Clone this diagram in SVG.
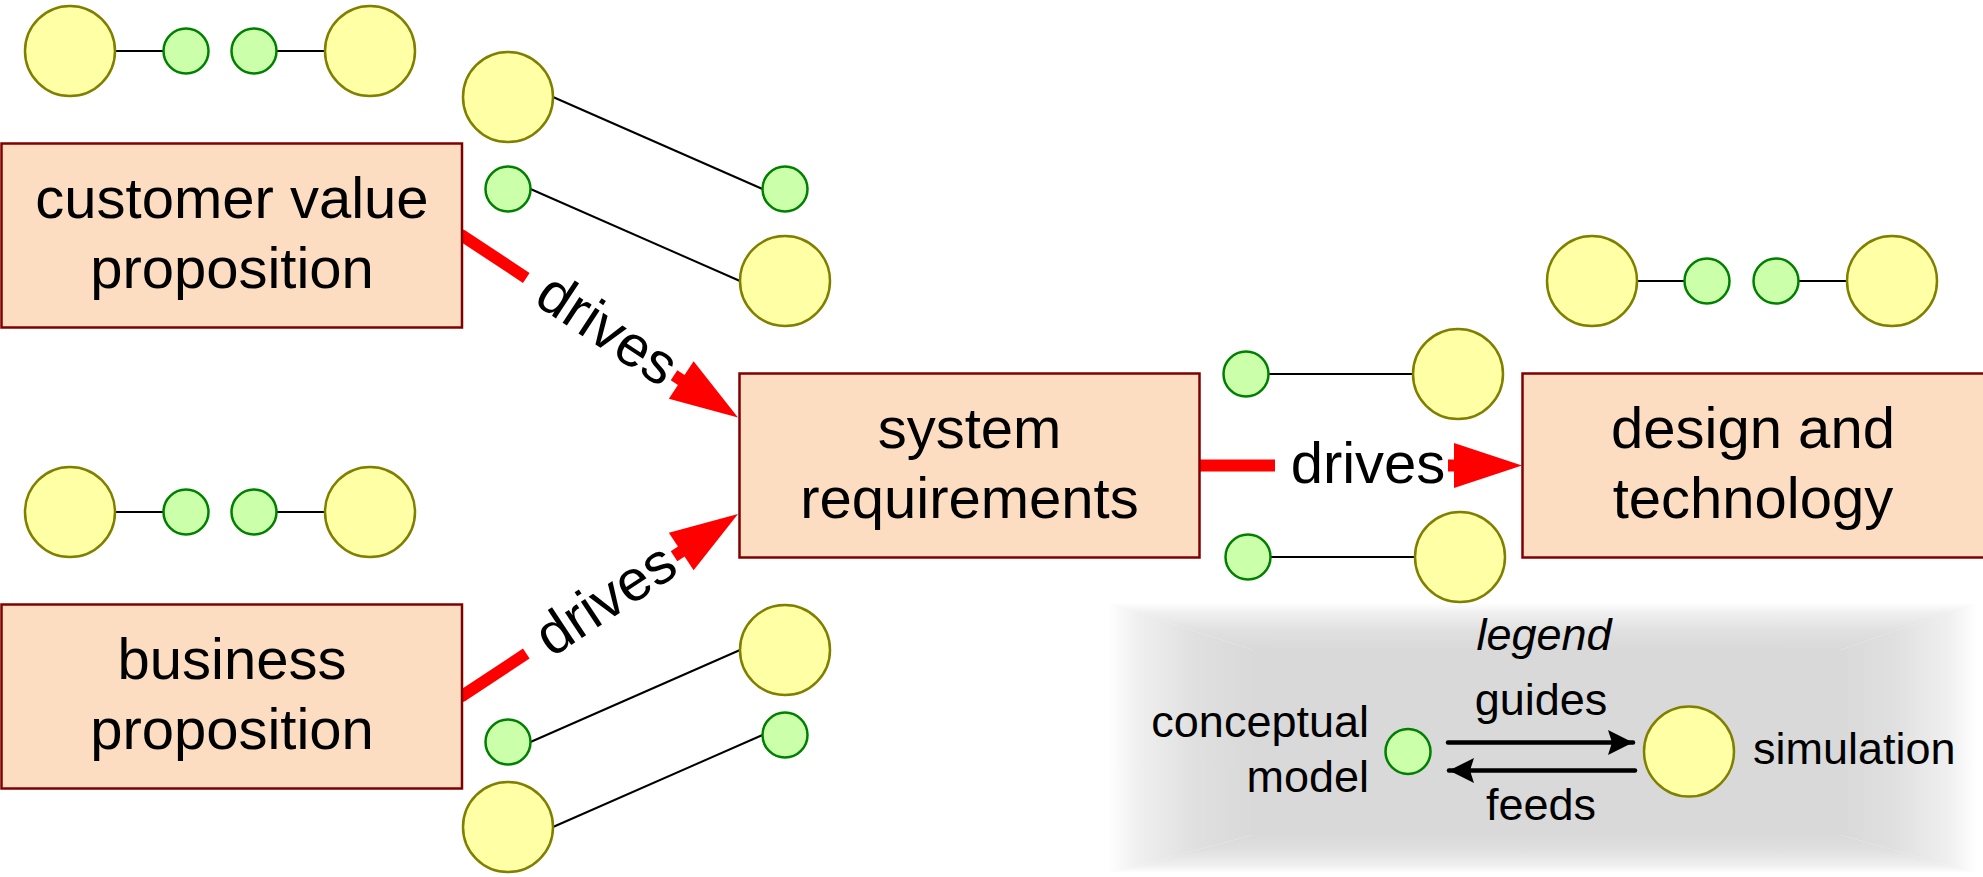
<svg xmlns="http://www.w3.org/2000/svg" width="1983" height="877" viewBox="0 0 1983 877">
  <style>
    .box { fill: #fcddc2; stroke: #800000; stroke-width: 2.5; }
    .sim { fill: #ffffa6; stroke: #808000; stroke-width: 2.5; }
    .con { fill: #ccffaa; stroke: #008000; stroke-width: 2.5; }
    .link { stroke: #000000; stroke-width: 2; fill: none; }
    .drive { stroke: #ff0000; stroke-width: 12; fill: none; }
    .head { fill: #ff0000; }
    .label { font-family: "Liberation Sans", Arial, sans-serif; font-size: 58px; fill: #000000; text-anchor: middle; }
    .leg { font-family: "Liberation Sans", Arial, sans-serif; font-size: 45px; fill: #000000; }
    .legline { stroke: #000000; stroke-width: 4.5; fill: none; stroke-linecap: round; }
  </style>
  <defs>
    <marker id="legHead" markerUnits="userSpaceOnUse" markerWidth="30" markerHeight="30" viewBox="0 0 30 30" refX="27" refY="15" orient="auto">
      <path d="M2,2.5 L27,15 L2,27.5 L6,15 Z" fill="#000000"/>
    </marker>
    <!-- soft fading border of the legend panel -->
    <linearGradient id="fadeL" gradientUnits="userSpaceOnUse" x1="1108" y1="0" x2="1253" y2="0">
      <stop offset="0" stop-color="#d9d9d9" stop-opacity="0"/>
      <stop offset="0.2" stop-color="#d9d9d9" stop-opacity="0.4"/>
      <stop offset="0.6" stop-color="#d9d9d9" stop-opacity="0.82"/>
      <stop offset="1" stop-color="#d9d9d9" stop-opacity="1"/>
    </linearGradient>
    <linearGradient id="fadeR" gradientUnits="userSpaceOnUse" x1="1977" y1="0" x2="1840" y2="0">
      <stop offset="0" stop-color="#d9d9d9" stop-opacity="0"/>
      <stop offset="0.2" stop-color="#d9d9d9" stop-opacity="0.4"/>
      <stop offset="0.6" stop-color="#d9d9d9" stop-opacity="0.82"/>
      <stop offset="1" stop-color="#d9d9d9" stop-opacity="1"/>
    </linearGradient>
    <linearGradient id="fadeT" gradientUnits="userSpaceOnUse" x1="0" y1="603" x2="0" y2="650">
      <stop offset="0" stop-color="#d9d9d9" stop-opacity="0"/>
      <stop offset="0.2" stop-color="#d9d9d9" stop-opacity="0.4"/>
      <stop offset="0.6" stop-color="#d9d9d9" stop-opacity="0.82"/>
      <stop offset="1" stop-color="#d9d9d9" stop-opacity="1"/>
    </linearGradient>
    <linearGradient id="fadeB" gradientUnits="userSpaceOnUse" x1="0" y1="873" x2="0" y2="835">
      <stop offset="0" stop-color="#d9d9d9" stop-opacity="0"/>
      <stop offset="0.2" stop-color="#d9d9d9" stop-opacity="0.4"/>
      <stop offset="0.6" stop-color="#d9d9d9" stop-opacity="0.82"/>
      <stop offset="1" stop-color="#d9d9d9" stop-opacity="1"/>
    </linearGradient>
  </defs>

  <rect width="1983" height="877" fill="#ffffff"/>

  <!-- legend panel -->
  <g id="legend-panel">
    <rect x="1253" y="650" width="587" height="185" fill="#d9d9d9"/>
    <polygon points="1108,603 1253,650 1253,835 1108,873" fill="url(#fadeL)"/>
    <polygon points="1977,603 1840,650 1840,835 1977,873" fill="url(#fadeR)"/>
    <polygon points="1108,603 1977,603 1840,650 1253,650" fill="url(#fadeT)"/>
    <polygon points="1108,873 1253,835 1840,835 1977,873" fill="url(#fadeB)"/>
  </g>

  <!-- connectors -->
  <g id="connectors">
    <!-- model pairs -->
    <line class="link" x1="115" y1="51" x2="163.5" y2="51"/>
    <line class="link" x1="276.5" y1="51" x2="325" y2="51"/>
    <line class="link" x1="115" y1="512" x2="163.5" y2="512"/>
    <line class="link" x1="276.5" y1="512" x2="325" y2="512"/>
    <line class="link" x1="1637" y1="281" x2="1684.5" y2="281"/>
    <line class="link" x1="1798.5" y1="281" x2="1847" y2="281"/>
    <line class="link" x1="553" y1="97" x2="762.5" y2="189"/>
    <line class="link" x1="530.5" y1="189" x2="740" y2="281"/>
    <line class="link" x1="530.5" y1="742" x2="740" y2="650"/>
    <line class="link" x1="553" y1="827" x2="762.5" y2="735"/>
    <line class="link" x1="1268.5" y1="374" x2="1413" y2="374"/>
    <line class="link" x1="1270.5" y1="557" x2="1415" y2="557"/>

    <!-- drives: customer value proposition -> system requirements -->
    <g id="drive-customer" transform="translate(462,235.5) rotate(33.4)">
      <circle cx="0" cy="0" r="6" class="head"/>
      <line class="drive" x1="0" y1="0" x2="77" y2="0"/>
      <line class="drive" x1="254" y1="0" x2="264" y2="0"/>
      <polygon class="head" points="262.6,-22.5 330.6,0 262.6,22.5"/>
      <text class="label" x="173" y="17.5">drives</text>
    </g>
    <!-- drives: business proposition -> system requirements -->
    <g id="drive-business" transform="translate(462,696) rotate(-33.4)">
      <circle cx="0" cy="0" r="6" class="head"/>
      <line class="drive" x1="0" y1="0" x2="77" y2="0"/>
      <line class="drive" x1="254" y1="0" x2="264" y2="0"/>
      <polygon class="head" points="262.6,-22.5 330.6,0 262.6,22.5"/>
      <text class="label" x="173" y="17.5">drives</text>
    </g>
    <!-- drives: system requirements -> design and technology -->
    <g id="drive-design" transform="translate(1199,465.5)">
      <circle cx="0" cy="0" r="6" class="head"/>
      <line class="drive" x1="0" y1="0" x2="76" y2="0"/>
      <line class="drive" x1="249" y1="0" x2="258" y2="0"/>
      <polygon class="head" points="255,-22.5 323,0 255,22.5"/>
      <text class="label" x="169" y="17.5">drives</text>
    </g>

    <!-- legend arrows -->
    <line class="legline" x1="1448" y1="742.5" x2="1633" y2="742.5" marker-end="url(#legHead)"/>
    <line class="legline" x1="1635" y1="770.5" x2="1449" y2="770.5" marker-end="url(#legHead)"/>
  </g>

  <!-- main blocks -->
  <g id="customer-value-proposition">
    <rect class="box" x="1.5" y="143.5" width="460.5" height="184"/>
    <text class="label" x="232" y="217.5">customer value</text>
    <text class="label" x="232" y="287.5">proposition</text>
  </g>
  <g id="business-proposition">
    <rect class="box" x="1.5" y="604.5" width="460.5" height="184"/>
    <text class="label" x="232" y="678.5">business</text>
    <text class="label" x="232" y="748.5">proposition</text>
  </g>
  <g id="system-requirements">
    <rect class="box" x="739.5" y="373.5" width="460" height="184"/>
    <text class="label" x="969.5" y="447.5">system</text>
    <text class="label" x="969.5" y="517.5">requirements</text>
  </g>
  <g id="design-and-technology">
    <rect class="box" x="1522.5" y="373.5" width="480" height="184"/>
    <text class="label" x="1753" y="447.5">design and</text>
    <text class="label" x="1753" y="517.5">technology</text>
  </g>

  <!-- conceptual models (green) and simulations (yellow) -->
  <g id="pair-top-left">
    <circle class="sim" cx="70" cy="51" r="45"/>
    <circle class="con" cx="186" cy="51" r="22.5"/>
    <circle class="con" cx="254" cy="51" r="22.5"/>
    <circle class="sim" cx="370" cy="51" r="45"/>
  </g>
  <g id="pair-mid-left">
    <circle class="sim" cx="70" cy="512" r="45"/>
    <circle class="con" cx="186" cy="512" r="22.5"/>
    <circle class="con" cx="254" cy="512" r="22.5"/>
    <circle class="sim" cx="370" cy="512" r="45"/>
  </g>
  <g id="pair-top-right">
    <circle class="sim" cx="1592" cy="281" r="45"/>
    <circle class="con" cx="1707" cy="281" r="22.5"/>
    <circle class="con" cx="1776" cy="281" r="22.5"/>
    <circle class="sim" cx="1892" cy="281" r="45"/>
  </g>
  <g id="cross-upper">
    <circle class="sim" cx="508" cy="97" r="45"/>
    <circle class="con" cx="785" cy="189" r="22.5"/>
    <circle class="con" cx="508" cy="189" r="22.5"/>
    <circle class="sim" cx="785" cy="281" r="45"/>
  </g>
  <g id="cross-lower">
    <circle class="sim" cx="785" cy="650" r="45"/>
    <circle class="con" cx="508" cy="742" r="22.5"/>
    <circle class="con" cx="785" cy="735" r="22.5"/>
    <circle class="sim" cx="508" cy="827" r="45"/>
  </g>
  <g id="pair-system-top">
    <circle class="con" cx="1246" cy="374" r="22.5"/>
    <circle class="sim" cx="1458" cy="374" r="45"/>
  </g>
  <g id="pair-system-bottom">
    <circle class="con" cx="1248" cy="557" r="22.5"/>
    <circle class="sim" cx="1460" cy="557" r="45"/>
  </g>

  <!-- legend content -->
  <g id="legend">
    <text class="leg" x="1544" y="650" text-anchor="middle" font-style="italic">legend</text>
    <text class="leg" x="1541" y="715" text-anchor="middle">guides</text>
    <text class="leg" x="1541" y="820" text-anchor="middle">feeds</text>
    <text class="leg" x="1369" y="737" text-anchor="end">conceptual</text>
    <text class="leg" x="1369" y="792" text-anchor="end">model</text>
    <text class="leg" x="1753" y="764">simulation</text>
    <circle class="con" cx="1408" cy="751.5" r="22.5"/>
    <circle class="sim" cx="1689" cy="751.5" r="45"/>
  </g>
</svg>
